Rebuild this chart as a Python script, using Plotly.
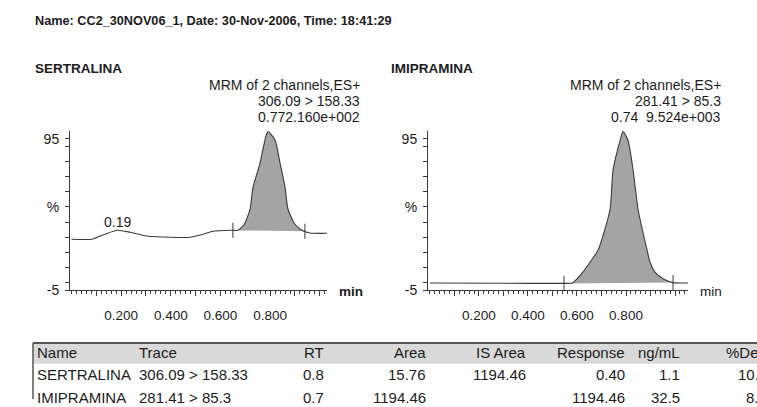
import numpy as np
import plotly.graph_objects as go

# ---------------- data ----------------
TITLE = "Name: CC2_30NOV06_1, Date: 30-Nov-2006, Time: 18:41:29"
compound_names = ["SERTRALINA", "IMIPRAMINA"]
channel_info = ["MRM of 2 channels,ES+", "MRM of 2 channels,ES+"]
transitions = ["306.09 > 158.33", "281.41 > 85.3"]
peak_info = ["0.772.160e+002", "0.74  9.524e+003"]

# SERTRALINA chromatogram (time in min, intensity in %)
sert_time = [0.000, 0.083, 0.135, 0.184, 0.236, 0.308, 0.397, 0.477, 0.530, 0.570,
             0.646, 0.670, 0.696, 0.719, 0.731, 0.759, 0.779, 0.791, 0.820, 0.840,
             0.860, 0.872, 0.900, 0.928, 0.960, 1.029]
sert_pct = [28.7, 28.7, 32.0, 34.6, 33.3, 30.7, 30.0, 30.0, 32.0, 34.0,
            34.6, 34.6, 38.6, 48.5, 63.0, 78.9, 94.1, 100.0, 94.1, 78.9,
            63.0, 48.5, 38.6, 34.6, 32.8, 32.6]

# IMIPRAMINA chromatogram
imip_time = [0.000, 0.286, 0.547, 0.580, 0.600, 0.624, 0.653, 0.686, 0.735, 0.747,
             0.776, 0.788, 0.808, 0.829, 0.849, 0.886, 0.898, 0.918, 0.951, 0.992,
             1.053]
imip_pct = [-0.2, -0.4, -0.5, -0.3, 2.5, 7.0, 13.5, 21.4, 48.5, 74.3,
            94.1, 100.0, 94.1, 74.3, 48.5, 21.4, 13.5, 7.0, 2.5, 0.0,
            -0.2]

minor_peak_label = "0.19"
minor_peak_time = 0.184

integration_start = [0.650, 0.547]
integration_end = [0.940, 0.992]

x_tick_values = [0.1, 0.2, 0.3, 0.4, 0.5, 0.6, 0.7, 0.8, 0.9, 1.0]
x_tick_labels = ["", "0.200", "", "0.400", "", "0.600", "", "0.800", "", ""]
y_tick_values = [-5, 0, 10, 20, 30, 40, 50, 60, 70, 80, 90, 95]
y_tick_labels = ["-5", "", "", "", "", "", "%", "", "", "", "", "95"]

table_columns = ["Name", "Trace", "RT", "Area", "IS Area", "Response", "ng/mL", "%Dev"]
table_name = ["SERTRALINA", "IMIPRAMINA"]
table_trace = ["306.09 > 158.33", "281.41 > 85.3"]
table_rt = ["0.8", "0.7"]
table_area = ["15.76", "1194.46"]
table_is_area = ["1194.46", ""]
table_response = ["0.40", "1194.46"]
table_conc = ["1.1", "32.5"]
table_dev = ["10.0", "8.4"]

# ---------------- layout helpers ----------------
W, H = 757, 407
FONT = "Liberation Sans, Arial, sans-serif"
TXT = "#1c1c1c"
LINE = "#3a3a3a"


def px(x):
    return x / W


def py(y):
    return 1 - y / H


fig = go.Figure()

panels = [
    dict(t=sert_time, y=sert_pct, xa="x", ya="y", dom=[px(70), px(327)],
         rng=[-0.006, 1.029], right=362, left=33, min_bold=True),
    dict(t=imip_time, y=imip_pct, xa="x2", ya="y2", dom=[px(428), px(688)],
         rng=[-0.008, 1.053], right=723, left=389, min_bold=False),
]

annotations = []
for i, p in enumerate(panels):
    t = np.array(p["t"])
    y = np.array(p["y"])
    a, b = integration_start[i], integration_end[i]
    ya, yb = np.interp([a, b], t, y)
    mask = (t > a) & (t < b)
    fx = [a] + list(t[mask]) + [b]
    fy = [ya] + list(y[mask]) + [yb]
    fig.add_trace(go.Scatter(x=fx, y=fy, xaxis=p["xa"], yaxis=p["ya"], mode="lines",
                             fill="toself", fillcolor="#a4a4a4",
                             line=dict(width=0, shape="spline", smoothing=0.6),
                             hoverinfo="skip", showlegend=False))
    fig.add_trace(go.Scatter(x=p["t"], y=p["y"], xaxis=p["xa"], yaxis=p["ya"], mode="lines",
                             line=dict(color=LINE, width=1.1, shape="spline", smoothing=0.6),
                             showlegend=False))
    # integration markers
    tx, ty = [], []
    for xv, yv in ((a, ya), (b, yb)):
        tx += [xv, xv, None]
        ty += [yv - 5, yv + 5, None]
    fig.add_trace(go.Scatter(x=tx, y=ty, xaxis=p["xa"], yaxis=p["ya"], mode="lines",
                             line=dict(color=LINE, width=1), showlegend=False,
                             hoverinfo="skip"))

    # header text lines
    for txt, yy in ((channel_info[i], 87), (transitions[i], 103), (peak_info[i], 119)):
        annotations.append(dict(text=txt, x=px(p["right"]), y=py(yy), xref="paper", yref="paper",
                                xanchor="right", yanchor="middle", showarrow=False,
                                font=dict(size=14, color=TXT, family=FONT)))
    annotations.append(dict(text="<b>%s</b>" % compound_names[i], x=px(p["left"]), y=py(70),
                            xref="paper", yref="paper", xanchor="left", yanchor="middle",
                            showarrow=False, font=dict(size=13.5, color=TXT, family=FONT)))
    annotations.append(dict(text=("<b>min</b>" if p["min_bold"] else "min"),
                            x=p["dom"][1] + px(10), y=py(297), xref="paper", yref="paper",
                            xanchor="left", yanchor="middle", showarrow=False,
                            font=dict(size=13.5, color=TXT, family=FONT)))

annotations.append(dict(text=minor_peak_label, x=minor_peak_time,
                        y=float(np.interp(minor_peak_time, sert_time, sert_pct)),
                        xref="x", yref="y", xanchor="center", yanchor="bottom", yshift=-2,
                        showarrow=False, font=dict(size=14, color=TXT, family=FONT)))

annotations.append(dict(text="<b>%s</b>" % TITLE, x=px(33), y=py(21), xref="paper", yref="paper",
                        xanchor="left", yanchor="middle", showarrow=False,
                        font=dict(size=12.7, color=TXT, family=FONT)))

# ---------------- table ----------------
col_x = [35, 137, 326, 428, 528, 627, 682, 769]
col_anchor = ["left", "left", "right", "right", "right", "right", "right", "right"]
rows_y = [360, 382, 405]
table_rows = [table_columns,
              [table_name[0], table_trace[0], table_rt[0], table_area[0], table_is_area[0],
               table_response[0], table_conc[0], table_dev[0]],
              [table_name[1], table_trace[1], table_rt[1], table_area[1], table_is_area[1],
               table_response[1], table_conc[1], table_dev[1]]]
for r, row in enumerate(table_rows):
    for c, cell in enumerate(row):
        if cell == "":
            continue
        annotations.append(dict(text=cell, x=px(col_x[c]), y=py(rows_y[r]), xref="paper",
                                yref="paper", xanchor=col_anchor[c], yanchor="middle",
                                showarrow=False, font=dict(size=15, color=TXT, family=FONT)))

TOP = 350
shapes = [
    dict(type="rect", xref="paper", yref="paper", x0=px(33), x1=1.0, y0=py(TOP + 21), y1=py(TOP),
         fillcolor="#d9d9d9", line=dict(width=0), layer="below"),
    dict(type="line", xref="paper", yref="paper", x0=px(33), x1=1.0, y0=py(TOP), y1=py(TOP),
         line=dict(color="#555", width=2)),
    dict(type="line", xref="paper", yref="paper", x0=px(33), x1=px(33), y0=py(TOP), y1=0,
         line=dict(color="#555", width=1.5)),
]

axis_common = dict(showgrid=False, zeroline=False, showline=True, linecolor=LINE, linewidth=1,
                   ticks="outside", tickcolor=LINE, tickfont=dict(size=14, color=TXT, family=FONT))

layout = dict(
    width=W, height=H, margin=dict(l=0, r=0, t=0, b=0), autosize=False,
    paper_bgcolor="white", plot_bgcolor="white",
    annotations=annotations, shapes=shapes,
    font=dict(family=FONT, color=TXT),
)
for i, p in enumerate(panels):
    sx = "" if i == 0 else "2"
    layout["xaxis" + sx] = dict(axis_common, domain=p["dom"], range=p["rng"],
                                anchor="y" + sx, tickmode="array", tickvals=x_tick_values,
                                ticktext=x_tick_labels, ticklen=5, ticklabelstandoff=8,
                                tickfont=dict(size=13.5, color=TXT, family=FONT),
                                minor=dict(ticks="outside", dtick=0.02, tick0=0, ticklen=3,
                                           tickcolor=LINE))
    layout["yaxis" + sx] = dict(axis_common, domain=[py(296), py(134)], range=[-5, 100],
                                anchor="x" + sx, tickmode="array", tickvals=y_tick_values,
                                ticktext=y_tick_labels, ticklen=4, ticklabelstandoff=3)

fig.update_layout(**layout)
fig.write_html("out.html", config={"displayModeBar": False},
               post_script="document.body.style.margin='0';"
                           "document.documentElement.style.overflow='hidden';")
